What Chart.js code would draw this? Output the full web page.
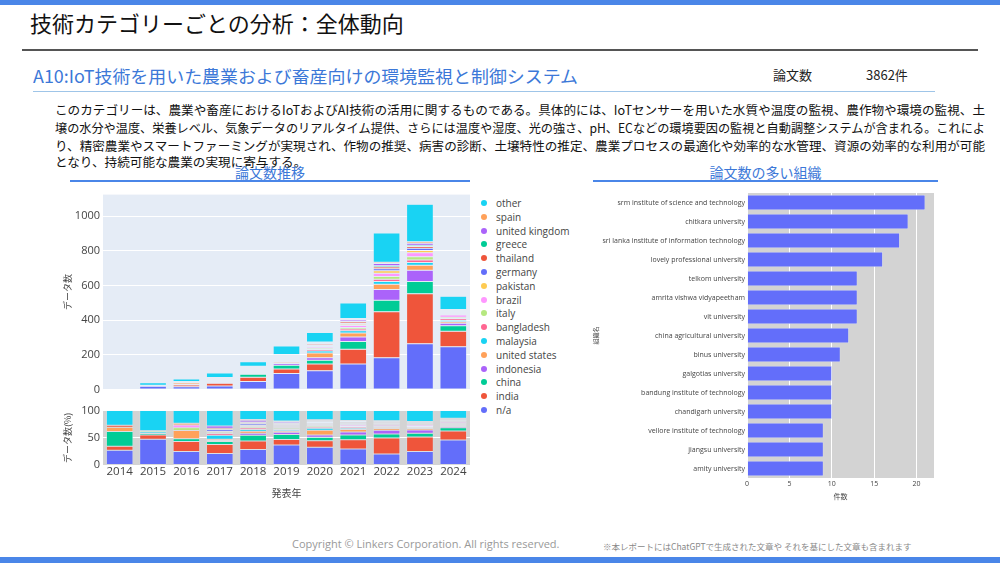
<!DOCTYPE html>
<html><head><meta charset="utf-8">
<script src="https://cdn.jsdelivr.net/npm/chart.js@4.4.1/dist/chart.umd.min.js"></script>
<style>
body{margin:0;width:1000px;height:563px;position:relative;overflow:hidden;background:#fff;font-family:"Noto Sans CJK JP","Noto Sans",sans-serif;}
.abs{position:absolute;white-space:nowrap;}
canvas{position:absolute;}
.para{position:absolute;left:55px;white-space:nowrap;font-size:12.5px;color:#111;transform-origin:0 50%;line-height:18px;}
.leg{position:absolute;left:481px;font-family:"Open Sans",sans-serif;font-size:10px;color:#444;white-space:nowrap;line-height:12px;}
.leg span.d{display:inline-block;width:6px;height:6px;border-radius:50%;margin-right:9px;vertical-align:1px;}
</style></head><body>
<div class="abs" style="left:0;top:0;width:1000px;height:5px;background:#4a86e8"></div>
<div class="abs" style="left:30px;top:7px;font-size:22px;line-height:30px;color:#111">技術カテゴリーごとの分析：全体動向</div>
<div class="abs" style="left:22px;top:49px;width:956px;height:2px;background:#555"></div>
<div class="abs" id="sub" style="left:33px;top:64px;font-size:17.5px;line-height:24px;color:#3c78d8;transform-origin:0 50%">A10:IoT技術を用いた農業および畜産向けの環境監視と制御システム</div>
<div class="abs" style="left:773px;top:66px;font-size:13px;line-height:18px;color:#222">論文数</div>
<div class="abs" style="left:866px;top:66px;font-size:13px;line-height:18px;color:#222">3862件</div>
<div class="abs" style="left:33px;top:91px;width:902px;height:1px;background:#9fc5e8"></div>

<div class="para" id="p1" style="top:101px">このカテゴリーは、農業や畜産におけるIoTおよびAI技術の活用に関するものである。具体的には、IoTセンサーを用いた水質や温度の監視、農作物や環境の監視、土</div>
<div class="para" id="p2" style="top:119px">壌の水分や温度、栄養レベル、気象データのリアルタイム提供、さらには温度や湿度、光の強さ、pH、ECなどの環境要因の監視と自動調整システムが含まれる。これによ</div>
<div class="para" id="p3" style="top:137px">り、精密農業やスマートファーミングが実現され、作物の推奨、病害の診断、土壌特性の推定、農業プロセスの最適化や効率的な水管理、資源の効率的な利用が可能</div>
<div class="para" id="p4" style="top:153px">となり、持続可能な農業の実現に寄与する。</div>

<div class="abs" style="left:70px;top:162px;width:400px;text-align:center;font-size:14px;line-height:20px;color:#3c78d8">論文数推移</div>
<div class="abs" style="left:70px;top:180px;width:400px;height:2px;background:#4a86e8"></div>
<div class="abs" style="left:593px;top:162px;width:345px;text-align:center;font-size:14px;line-height:20px;color:#3c78d8">論文数の多い組織</div>
<div class="abs" style="left:593px;top:180px;width:345px;height:2px;background:#4a86e8"></div>

<canvas id="c1" width="410" height="214" style="left:60px;top:185px"></canvas>
<canvas id="c2" width="410" height="100" style="left:60px;top:401px"></canvas>
<canvas id="c3" width="350" height="320" style="left:590px;top:185px"></canvas>
<div id="legend"></div>

<div class="abs" style="left:292px;top:536px;font-family:'Open Sans',sans-serif;font-size:11px;line-height:15px;color:#999">Copyright © Linkers Corporation. All rights reserved.</div>
<div class="abs" style="left:603px;top:540px;font-size:8.5px;line-height:12px;color:#888">※本レポートにはChatGPTで生成された文章や それを基にした文章も含まれます</div>
<div class="abs" style="left:0;top:557px;width:1000px;height:6px;background:#4a86e8"></div>

<script>
// ---- data ----
const years = ['2014','2015','2016','2017','2018','2019','2020','2021','2022','2023','2024'];
const countryNames = ['n/a','india','china','indonesia','united states','malaysia','bangladesh','italy','brazil','pakistan','germany','thailand','greece','united kingdom','spain','other'];
const naCounts        = [7, 18, 15, 20, 45, 92, 108, 146, 183, 263, 246];
const indiaCounts     = [2, 3, 11, 16, 25, 25, 38, 85, 265, 289, 89];
const chinaCounts     = [7, 1, 3, 5, 17, 23, 22, 45, 66, 70, 32];
const indonesiaCounts = [0, 0, 0, 2, 6, 10, 14, 27, 62, 66, 14];
const usCounts        = [2, 0, 9, 2, 6, 6, 28, 23, 30, 28, 10];
const malaysiaCounts  = [0, 1, 0, 7, 5, 6, 12, 12, 16, 16, 8];
const bangladeshCounts= [0, 0, 0, 3, 4, 5, 8, 10, 14, 14, 10];
const italyCounts     = [0, 1, 3, 2, 4, 5, 8, 9, 16, 20, 8];
const brazilCounts    = [0, 0, 3, 2, 3, 5, 6, 12, 18, 22, 12];
const pakistanCounts  = [0, 0, 0, 0, 2, 4, 5, 7, 14, 14, 6];
const germanyCounts   = [0, 0, 0, 3, 4, 4, 5, 6, 12, 12, 6];
const thailandCounts  = [1, 0, 0, 2, 3, 5, 6, 8, 10, 10, 6];
const greeceCounts    = [0, 0, 0, 0, 2, 3, 4, 5, 8, 8, 4];
const ukCounts        = [0, 0, 0, 4, 5, 6, 5, 8, 12, 12, 6];
const spainCounts     = [0, 0, 2, 0, 2, 3, 4, 6, 8, 8, 4];
const otherCounts     = [7, 14, 14, 27, 26, 48, 56, 90, 168, 216, 76];
const seriesCounts = [naCounts, indiaCounts, chinaCounts, indonesiaCounts, usCounts, malaysiaCounts, bangladeshCounts, italyCounts, brazilCounts, pakistanCounts, germanyCounts, thailandCounts, greeceCounts, ukCounts, spainCounts, otherCounts];
const countTicks = [0, 200, 400, 600, 800, 1000];
const percentTicks = [0, 50, 100];

const orgNames = ['srm institute of science and technology','chitkara university','sri lanka institute of information technology','lovely professional university','telkom university','amrita vishwa vidyapeetham','vit university','china agricultural university','binus university','galgotias university','bandung institute of technology','chandigarh university','vellore institute of technology','jiangsu university','amity university'];
const orgCounts = [21, 19, 18, 16, 13, 13, 13, 12, 11, 10, 10, 10, 9, 9, 9];
const orgTicks = [0, 5, 10, 15, 20];

const palette = ['#636EFA','#EF553B','#00CC96','#AB63FA','#FFA15A','#19D3F3','#FF6692','#B6E880','#FF97FF','#FECB52'];

// ---- text fit ----
const fit = (id, w) => { const el = document.getElementById(id); const s = w / el.getBoundingClientRect().width; el.style.transform = 'scaleX(' + s + ')'; return s; };
fit('sub', 545);
const targetW = 930;
const sc = fit('p1', targetW);
fit('p2', targetW); fit('p3', targetW);
document.getElementById('p4').style.transform = 'scaleX(' + sc + ')';

// ---- legend ----
const leg = document.getElementById('legend');
for (let i = countryNames.length - 1; i >= 0; i--) {
  const k = countryNames.length - 1 - i;
  const d = document.createElement('div');
  d.className = 'leg';
  d.style.top = (197 + k * 13.8) + 'px';
  d.innerHTML = '<span class="d" style="background:' + palette[i % 10] + '"></span>' + countryNames[i];
  leg.appendChild(d);
}

// ---- charts ----
Chart.defaults.font.family = '"Open Sans", sans-serif';
Chart.defaults.color = '#444';
const bgPlugin = (color) => ({
  id: 'bg',
  beforeDraw(chart) {
    const a = chart.chartArea, c = chart.ctx;
    c.save(); c.fillStyle = color; c.fillRect(a.left, a.top, a.right - a.left, a.bottom - a.top); c.restore();
  }
});
const setTicks = (list) => (scale) => { scale.ticks = list.map(v => ({ value: v })); };
const plain = (v) => String(v);

const totals = years.map((y, j) => seriesCounts.reduce((s, arr) => s + arr[j], 0));

new Chart(document.getElementById('c1'), {
  type: 'bar',
  data: {
    labels: years,
    datasets: seriesCounts.map((arr, i) => ({
      label: countryNames[i], data: arr, backgroundColor: palette[i % 10],
      borderColor: '#E5ECF6', borderWidth: 0.5, borderSkipped: false,
      categoryPercentage: 0.8, barPercentage: 1
    }))
  },
  options: {
    responsive: false, animation: false,
    layout: { padding: { top: 8, bottom: 8, left: 0, right: 0 } },
    plugins: { legend: { display: false }, tooltip: { enabled: false } },
    scales: {
      x: { stacked: true, display: false },
      y: {
        stacked: true, min: 0, max: 1124,
        ticks: { font: { size: 11 }, padding: 3, callback: plain },
        afterBuildTicks: setTicks(countTicks),
        grid: { color: '#ffffff', drawTicks: false },
        border: { display: false },
        title: { display: true, text: 'データ数', font: { size: 9, family: '"Noto Sans CJK JP"' }, padding: 2 },
        afterFit(s) { s.width = 43; }
      }
    }
  },
  plugins: [bgPlugin('#E5ECF6')]
});

new Chart(document.getElementById('c2'), {
  type: 'bar',
  data: {
    labels: years,
    datasets: seriesCounts.map((arr, i) => ({
      label: countryNames[i], data: arr.map((v, j) => v / totals[j] * 100), backgroundColor: palette[i % 10],
      borderColor: '#E5ECF6', borderWidth: 0.5, borderSkipped: false,
      categoryPercentage: 0.8, barPercentage: 1
    }))
  },
  options: {
    responsive: false, animation: false,
    layout: { padding: { top: 8, bottom: 0, left: 0, right: 0 } },
    plugins: { legend: { display: false }, tooltip: { enabled: false } },
    scales: {
      x: {
        stacked: true,
        ticks: { font: { size: 11.5 }, padding: 0, maxRotation: 0 },
        grid: { display: false, drawTicks: false },
        border: { display: false },
        title: { display: true, text: '発表年', font: { size: 10, family: '"Noto Sans CJK JP"' }, padding: { top: 4, bottom: 2 } },
        afterFit(s) { s.height = 36; }
      },
      y: {
        stacked: true, min: 0, max: 100,
        ticks: { font: { size: 11 }, padding: 3, callback: plain },
        afterBuildTicks: setTicks(percentTicks),
        grid: { color: '#ffffff', drawTicks: false },
        border: { display: false },
        title: { display: true, text: 'データ数(%)', font: { size: 9, family: '"Noto Sans CJK JP"' }, padding: 2 },
        afterFit(s) { s.width = 43; }
      }
    }
  },
  plugins: [bgPlugin('#d3d3d3')]
});

new Chart(document.getElementById('c3'), {
  type: 'bar',
  data: {
    labels: orgNames,
    datasets: [{ label: '件数', data: orgCounts, backgroundColor: '#636EFA', borderColor: '#E5ECF6', borderWidth: 0.5, borderSkipped: false, categoryPercentage: 0.8, barPercentage: 1 }]
  },
  options: {
    indexAxis: 'y', responsive: false, animation: false,
    layout: { padding: { top: 8, bottom: 0, left: 0, right: 6 } },
    plugins: { legend: { display: false }, tooltip: { enabled: false } },
    scales: {
      x: {
        min: 0, max: 22.05,
        ticks: { font: { size: 7 }, padding: 2, callback: plain },
        afterBuildTicks: setTicks(orgTicks),
        grid: { color: '#ffffff', drawTicks: false },
        border: { display: false },
        title: { display: true, text: '件数', font: { size: 7, family: '"Noto Sans CJK JP"' }, padding: { top: 4, bottom: 4 } },
        afterFit(s) { s.height = 27; }
      },
      y: {
        ticks: { font: { size: 7 }, padding: 2 },
        grid: { display: false, drawTicks: false },
        border: { display: false },
        title: { display: true, text: '組織名', font: { size: 6, family: '"Noto Sans CJK JP"' }, padding: 2 },
        afterFit(s) { s.width = 157; }
      }
    }
  },
  plugins: [bgPlugin('#d3d3d3')]
});
</script>
</body></html>
